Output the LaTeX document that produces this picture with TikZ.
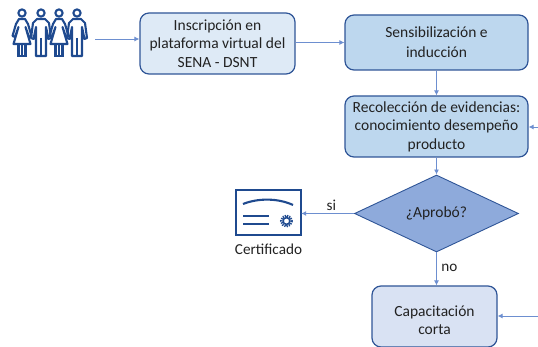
\documentclass[tikz,border=0pt]{standalone}
\usepackage{fontspec}
\setmainfont{Carlito}
\usetikzlibrary{shapes.geometric,arrows.meta}
\definecolor{edgeblue}{HTML}{2F5597}
\definecolor{linkblue}{HTML}{6D8FD0}
\definecolor{iconblue}{HTML}{1F4A8F}
\definecolor{lightA}{HTML}{DEEAF6}
\definecolor{midA}{HTML}{BDD7EE}
\definecolor{diam}{HTML}{8EAADB}
\definecolor{lightB}{HTML}{D9E2F3}
\definecolor{inkc}{HTML}{222222}
\tikzset{
 x=1pt,y=-1pt,
 flowbox/.style={draw=edgeblue,line width=1.2pt,rounded corners=9pt,align=center,inner sep=0pt,text=inkc,font=\fontsize{15.5}{18.4}\selectfont},
 decision/.style={draw=edgeblue,line width=.9pt,fill=diam,diamond,aspect=2.13,inner sep=0pt,text=inkc,font=\fontsize{15.5}{18}\selectfont},
 link/.style={draw=linkblue,line width=.9pt,-{Latex[length=5pt,width=5pt]}},
 lab/.style={text=inkc,inner sep=0pt,font=\fontsize{15.2}{16}\selectfont},
 icon/.style={draw=iconblue,line width=2.1pt,fill=none},
 ghost/.style={inner sep=0pt,draw=none},
}
\newcommand{\womanicon}[1]{%
 \begin{scope}[shift={(#1,0)}]
 \draw[icon] (0,13) circle (3.6);
 \draw[icon,line join=round] (-3,19) -- (3,19) -- (6,24) -- (9.5,36) -- (7,37) -- (3.5,27) -- (8.5,44) -- (-8.5,44) -- (-3.5,27) -- (-7,37) -- (-9.5,36) -- (-6,24) -- cycle;
 \draw[icon] (-3.5,44) -- (-3.5,56) -- (3.5,56) -- (3.5,44) (0,44) -- (0,56);
 \end{scope}}
\newcommand{\manicon}[1]{%
 \begin{scope}[shift={(#1,0)}]
 \draw[icon] (0,13) circle (3.6);
 \draw[icon,line join=round] (-4,19) -- (4,19) -- (8,23) -- (10,38) -- (7.5,39) -- (5,27) -- (5,56) -- (-5,56) -- (-5,27) -- (-7.5,39) -- (-10,38) -- (-8,23) -- cycle;
 \draw[icon] (0,38) -- (0,56);
 \end{scope}}
\begin{document}
\begin{tikzpicture}
\useasboundingbox (0,0) rectangle (538,347);
\womanicon{22}\manicon{41}\womanicon{59}\manicon{77}
\node[ghost,minimum width=85pt,minimum height=50pt] (people) at (52.5,39) {};
\node[flowbox,fill=lightA,minimum width=155pt,minimum height=61pt] (insc) at (217.5,43.5) {Inscripción en\\plataforma virtual del\\SENA - DSNT};
\node[flowbox,fill=midA,minimum width=183pt,minimum height=55pt] (sens) at (436.5,42.5) {Sensibilización e\\[1.5pt]inducción};
\node[flowbox,fill=midA,minimum width=183pt,minimum height=61pt] (reco) at (436.5,126.5) {Recolección de evidencias:\\conocimiento desempeño\\producto};
\node[decision,minimum width=164pt,minimum height=77pt] (apro) at (436.5,213.5) {¿Aprobó?};
\node[flowbox,fill=lightB,minimum width=125pt,minimum height=61pt] (capa) at (434.5,316.5) {\raisebox{-9pt}[0pt][0pt]{\begin{tabular}{@{}c@{}}Capacitación\\corta\end{tabular}}};
\node[ghost,minimum width=66pt,minimum height=45pt] (cert) at (268,213) {};
\draw[draw=iconblue,line width=2pt] (236,190) rectangle (301,235);
\draw[icon] (243,204) .. controls (258,198) and (278,198) .. (293,205);
\draw[icon] (243,216) -- (269,216) (243,224) -- (269,224);
\draw[draw=iconblue,line width=2.2pt,dash pattern=on 1.3pt off 1pt] (286.5,221) circle (5.4);
\draw[draw=iconblue,line width=1.6pt] (286.5,221) circle (3.4);
\node[lab] (certlab) at (268.5,249.5) {Certificado};
\coordinate (ein) at (538,127);
\coordinate (ein2) at (538,316);
\draw[link] (people.east) -- (people.east -| insc.west);
\draw[link] (insc.east |- sens) -- (sens.west);
\draw[link] (sens) -- (reco);
\draw[link] (reco) -- (apro);
\draw[link] (apro.west) -- node[lab,above,yshift=2.5pt,pos=.43]{si} (cert.east |- apro);
\draw[link] (apro.south) -- node[lab,right,xshift=4.5pt,pos=.46]{no} (capa.north -| apro);
\draw[link] (ein) -- (reco.east |- ein);
\draw[link] (ein2) -- (capa.east |- ein2);
\end{tikzpicture}
\end{document}
